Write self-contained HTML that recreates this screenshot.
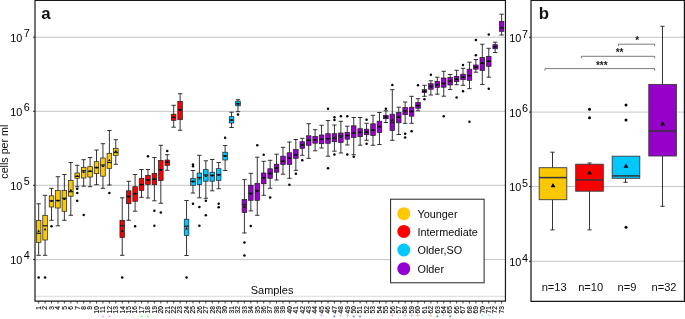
<!DOCTYPE html>
<html><head><meta charset="utf-8"><title>Figure</title>
<style>html,body{margin:0;padding:0;background:#fff}body{width:685px;height:319px;overflow:hidden}</style>
</head><body>
<svg width="685" height="319" viewBox="0 0 685 319" style="display:block;will-change:transform;font-family:'Liberation Sans',Arial,sans-serif">
<rect width="685" height="319" fill="#fff"/>
<line x1="35.0" x2="505.45" y1="37.2" y2="37.2" stroke="#b4b4b4" stroke-width="0.8"/>
<line x1="35.0" x2="505.45" y1="111.3" y2="111.3" stroke="#b4b4b4" stroke-width="0.8"/>
<line x1="35.0" x2="505.45" y1="185.3" y2="185.3" stroke="#b4b4b4" stroke-width="0.8"/>
<line x1="35.0" x2="505.45" y1="259.6" y2="259.6" stroke="#b4b4b4" stroke-width="0.8"/>
<line x1="35.0" x2="505.45" y1="296.3" y2="296.3" stroke="#d2d2d2" stroke-width="0.8"/>
<g stroke="#1e1e22" stroke-width="0.9">
<line x1="38.65" x2="38.65" y1="203.8" y2="255.3"/>
<line x1="36.45" x2="40.85" y1="203.8" y2="203.8"/>
<line x1="36.45" x2="40.85" y1="255.3" y2="255.3"/>
<rect x="36.35" y="220.3" width="4.6" height="22.20" fill="#FAC800" stroke-width="0.7"/>
<line x1="36.35" x2="40.95" y1="233.3" y2="233.3" stroke-width="1.3"/>
</g>
<path d="M37.40 231.90L39.90 231.90L38.65 229.50Z" fill="#000"/>
<circle cx="38.65" cy="277.5" r="1.25" fill="#000"/>
<g stroke="#1e1e22" stroke-width="0.9">
<line x1="45.08" x2="45.08" y1="195.3" y2="255.3"/>
<line x1="42.88" x2="47.28" y1="195.3" y2="195.3"/>
<line x1="42.88" x2="47.28" y1="255.3" y2="255.3"/>
<rect x="42.78" y="215.3" width="4.6" height="24.70" fill="#FAC800" stroke-width="0.7"/>
<line x1="42.78" x2="47.38" y1="225.8" y2="225.8" stroke-width="1.3"/>
</g>
<path d="M43.83 230.30L46.33 230.30L45.08 227.90Z" fill="#000"/>
<circle cx="45.08" cy="277.5" r="1.25" fill="#000"/>
<g stroke="#1e1e22" stroke-width="0.9">
<line x1="51.51" x2="51.51" y1="188.3" y2="220.3"/>
<line x1="49.31" x2="53.71" y1="188.3" y2="188.3"/>
<line x1="49.31" x2="53.71" y1="220.3" y2="220.3"/>
<rect x="49.21" y="195.8" width="4.6" height="11.20" fill="#FAC800" stroke-width="0.7"/>
<line x1="49.21" x2="53.81" y1="200.8" y2="200.8" stroke-width="1.3"/>
</g>
<path d="M50.26 202.10L52.76 202.10L51.51 199.70Z" fill="#000"/>
<circle cx="51.51" cy="226.2" r="1.25" fill="#000"/>
<g stroke="#1e1e22" stroke-width="0.9">
<line x1="57.94" x2="57.94" y1="176.7" y2="225.8"/>
<line x1="55.74" x2="60.14" y1="176.7" y2="176.7"/>
<line x1="55.74" x2="60.14" y1="225.8" y2="225.8"/>
<rect x="55.64" y="190.5" width="4.6" height="17.50" fill="#FAC800" stroke-width="0.7"/>
<line x1="55.64" x2="60.24" y1="200.5" y2="200.5" stroke-width="1.3"/>
</g>
<path d="M56.69 201.60L59.19 201.60L57.94 199.20Z" fill="#000"/>
<g stroke="#1e1e22" stroke-width="0.9">
<line x1="64.37" x2="64.37" y1="174.5" y2="220.3"/>
<line x1="62.17" x2="66.57" y1="174.5" y2="174.5"/>
<line x1="62.17" x2="66.57" y1="220.3" y2="220.3"/>
<rect x="62.07" y="190.5" width="4.6" height="20.80" fill="#FAC800" stroke-width="0.7"/>
<line x1="62.07" x2="66.67" y1="198.3" y2="198.3" stroke-width="1.3"/>
</g>
<path d="M63.12 200.10L65.62 200.10L64.37 197.70Z" fill="#000"/>
<g stroke="#1e1e22" stroke-width="0.9">
<line x1="70.80" x2="70.80" y1="162.5" y2="215.3"/>
<line x1="68.60" x2="73.00" y1="162.5" y2="162.5"/>
<line x1="68.60" x2="73.00" y1="215.3" y2="215.3"/>
<rect x="68.50" y="180.3" width="4.6" height="15.90" fill="#FAC800" stroke-width="0.7"/>
<line x1="68.50" x2="73.10" y1="191.7" y2="191.7" stroke-width="1.3"/>
</g>
<path d="M69.55 191.10L72.05 191.10L70.80 188.70Z" fill="#000"/>
<g stroke="#1e1e22" stroke-width="0.9">
<line x1="77.23" x2="77.23" y1="165.3" y2="186.7"/>
<line x1="75.03" x2="79.43" y1="165.3" y2="165.3"/>
<line x1="75.03" x2="79.43" y1="186.7" y2="186.7"/>
<rect x="74.93" y="173" width="4.6" height="5.30" fill="#FAC800" stroke-width="0.7"/>
<line x1="74.93" x2="79.53" y1="176.3" y2="176.3" stroke-width="1.3"/>
</g>
<path d="M75.98 177.10L78.48 177.10L77.23 174.70Z" fill="#000"/>
<circle cx="77.23" cy="188.8" r="1.25" fill="#000"/>
<circle cx="77.23" cy="193" r="1.25" fill="#000"/>
<circle cx="77.23" cy="200.7" r="1.25" fill="#000"/>
<g stroke="#1e1e22" stroke-width="0.9">
<line x1="83.66" x2="83.66" y1="159.7" y2="186.2"/>
<line x1="81.46" x2="85.86" y1="159.7" y2="159.7"/>
<line x1="81.46" x2="85.86" y1="186.2" y2="186.2"/>
<rect x="81.36" y="167.3" width="4.6" height="10.70" fill="#FAC800" stroke-width="0.7"/>
<line x1="81.36" x2="85.96" y1="170.8" y2="170.8" stroke-width="1.3"/>
</g>
<path d="M82.41 173.10L84.91 173.10L83.66 170.70Z" fill="#000"/>
<circle cx="83.66" cy="215" r="1.25" fill="#000"/>
<g stroke="#1e1e22" stroke-width="0.9">
<line x1="90.09" x2="90.09" y1="157.5" y2="186.7"/>
<line x1="87.89" x2="92.29" y1="157.5" y2="157.5"/>
<line x1="87.89" x2="92.29" y1="186.7" y2="186.7"/>
<rect x="87.79" y="166.7" width="4.6" height="10.30" fill="#FAC800" stroke-width="0.7"/>
<line x1="87.79" x2="92.39" y1="171.3" y2="171.3" stroke-width="1.3"/>
</g>
<path d="M88.84 172.10L91.34 172.10L90.09 169.70Z" fill="#000"/>
<g stroke="#1e1e22" stroke-width="0.9">
<line x1="96.52" x2="96.52" y1="150" y2="184.7"/>
<line x1="94.32" x2="98.72" y1="150" y2="150"/>
<line x1="94.32" x2="98.72" y1="184.7" y2="184.7"/>
<rect x="94.22" y="161.7" width="4.6" height="12.00" fill="#FAC800" stroke-width="0.7"/>
<line x1="94.22" x2="98.82" y1="167.5" y2="167.5" stroke-width="1.3"/>
</g>
<path d="M95.27 168.60L97.77 168.60L96.52 166.20Z" fill="#000"/>
<g stroke="#1e1e22" stroke-width="0.9">
<line x1="102.95" x2="102.95" y1="143.7" y2="188.3"/>
<line x1="100.75" x2="105.15" y1="143.7" y2="143.7"/>
<line x1="100.75" x2="105.15" y1="188.3" y2="188.3"/>
<rect x="100.65" y="158" width="4.6" height="18.20" fill="#FAC800" stroke-width="0.7"/>
<line x1="100.65" x2="105.25" y1="165" y2="165" stroke-width="1.3"/>
</g>
<path d="M101.70 167.10L104.20 167.10L102.95 164.70Z" fill="#000"/>
<g stroke="#1e1e22" stroke-width="0.9">
<line x1="109.38" x2="109.38" y1="130.5" y2="185"/>
<line x1="107.18" x2="111.58" y1="130.5" y2="130.5"/>
<line x1="107.18" x2="111.58" y1="185" y2="185"/>
<rect x="107.08" y="153.3" width="4.6" height="15.00" fill="#FAC800" stroke-width="0.7"/>
<line x1="107.08" x2="111.68" y1="162.5" y2="162.5" stroke-width="1.3"/>
</g>
<path d="M108.13 161.10L110.63 161.10L109.38 158.70Z" fill="#000"/>
<circle cx="109.38" cy="193" r="1.25" fill="#000"/>
<g stroke="#1e1e22" stroke-width="0.9">
<line x1="115.81" x2="115.81" y1="139.7" y2="164.3"/>
<line x1="113.61" x2="118.01" y1="139.7" y2="139.7"/>
<line x1="113.61" x2="118.01" y1="164.3" y2="164.3"/>
<rect x="113.51" y="148.3" width="4.6" height="7.00" fill="#FAC800" stroke-width="0.7"/>
<line x1="113.51" x2="118.11" y1="152.5" y2="152.5" stroke-width="1.3"/>
</g>
<path d="M114.56 151.90L117.06 151.90L115.81 149.50Z" fill="#000"/>
<g stroke="#1e1e22" stroke-width="0.9">
<line x1="122.24" x2="122.24" y1="197.8" y2="255.3"/>
<line x1="120.04" x2="124.44" y1="197.8" y2="197.8"/>
<line x1="120.04" x2="124.44" y1="255.3" y2="255.3"/>
<rect x="119.94" y="220.3" width="4.6" height="17.20" fill="#F70000" stroke-width="0.7"/>
<line x1="119.94" x2="124.54" y1="225.8" y2="225.8" stroke-width="1.3"/>
</g>
<path d="M120.99 231.90L123.49 231.90L122.24 229.50Z" fill="#000"/>
<circle cx="122.24" cy="277.5" r="1.25" fill="#000"/>
<g stroke="#1e1e22" stroke-width="0.9">
<line x1="128.67" x2="128.67" y1="181.3" y2="220.3"/>
<line x1="126.47" x2="130.87" y1="181.3" y2="181.3"/>
<line x1="126.47" x2="130.87" y1="220.3" y2="220.3"/>
<rect x="126.37" y="190.8" width="4.6" height="12.90" fill="#F70000" stroke-width="0.7"/>
<line x1="126.37" x2="130.97" y1="196.3" y2="196.3" stroke-width="1.3"/>
</g>
<path d="M127.42 197.60L129.92 197.60L128.67 195.20Z" fill="#000"/>
<g stroke="#1e1e22" stroke-width="0.9">
<line x1="135.10" x2="135.10" y1="174.5" y2="211.2"/>
<line x1="132.90" x2="137.30" y1="174.5" y2="174.5"/>
<line x1="132.90" x2="137.30" y1="211.2" y2="211.2"/>
<rect x="132.80" y="186.7" width="4.6" height="14.60" fill="#F70000" stroke-width="0.7"/>
<line x1="132.80" x2="137.40" y1="193.7" y2="193.7" stroke-width="1.3"/>
</g>
<path d="M133.85 194.60L136.35 194.60L135.10 192.20Z" fill="#000"/>
<circle cx="135.10" cy="226.2" r="1.25" fill="#000"/>
<g stroke="#1e1e22" stroke-width="0.9">
<line x1="141.53" x2="141.53" y1="169.5" y2="197.3"/>
<line x1="139.33" x2="143.73" y1="169.5" y2="169.5"/>
<line x1="139.33" x2="143.73" y1="197.3" y2="197.3"/>
<rect x="139.23" y="178.3" width="4.6" height="12.10" fill="#F70000" stroke-width="0.7"/>
<line x1="139.23" x2="143.83" y1="184.5" y2="184.5" stroke-width="1.3"/>
</g>
<path d="M140.28 185.60L142.78 185.60L141.53 183.20Z" fill="#000"/>
<g stroke="#1e1e22" stroke-width="0.9">
<line x1="147.96" x2="147.96" y1="169.5" y2="198"/>
<line x1="145.76" x2="150.16" y1="169.5" y2="169.5"/>
<line x1="145.76" x2="150.16" y1="198" y2="198"/>
<rect x="145.66" y="175.3" width="4.6" height="9.20" fill="#F70000" stroke-width="0.7"/>
<line x1="145.66" x2="150.26" y1="179.7" y2="179.7" stroke-width="1.3"/>
</g>
<path d="M146.71 181.10L149.21 181.10L147.96 178.70Z" fill="#000"/>
<circle cx="147.96" cy="156.2" r="1.25" fill="#000"/>
<g stroke="#1e1e22" stroke-width="0.9">
<line x1="154.39" x2="154.39" y1="157.5" y2="200.8"/>
<line x1="152.19" x2="156.59" y1="157.5" y2="157.5"/>
<line x1="152.19" x2="156.59" y1="200.8" y2="200.8"/>
<rect x="152.09" y="173.3" width="4.6" height="11.40" fill="#F70000" stroke-width="0.7"/>
<line x1="152.09" x2="156.69" y1="179.2" y2="179.2" stroke-width="1.3"/>
</g>
<path d="M153.14 180.10L155.64 180.10L154.39 177.70Z" fill="#000"/>
<circle cx="154.39" cy="210.8" r="1.25" fill="#000"/>
<circle cx="154.39" cy="225.8" r="1.25" fill="#000"/>
<g stroke="#1e1e22" stroke-width="0.9">
<line x1="160.82" x2="160.82" y1="145.3" y2="203.3"/>
<line x1="158.62" x2="163.02" y1="145.3" y2="145.3"/>
<line x1="158.62" x2="163.02" y1="203.3" y2="203.3"/>
<rect x="158.52" y="160.5" width="4.6" height="20.00" fill="#F70000" stroke-width="0.7"/>
<line x1="158.52" x2="163.12" y1="169.7" y2="169.7" stroke-width="1.3"/>
</g>
<path d="M159.57 170.80L162.07 170.80L160.82 168.40Z" fill="#000"/>
<circle cx="160.82" cy="212.5" r="1.25" fill="#000"/>
<g stroke="#1e1e22" stroke-width="0.9">
<line x1="167.25" x2="167.25" y1="154.7" y2="170.3"/>
<line x1="165.05" x2="169.45" y1="154.7" y2="154.7"/>
<line x1="165.05" x2="169.45" y1="170.3" y2="170.3"/>
<rect x="164.95" y="160" width="4.6" height="5.50" fill="#F70000" stroke-width="0.7"/>
<line x1="164.95" x2="169.55" y1="162" y2="162" stroke-width="1.3"/>
</g>
<path d="M166.00 163.10L168.50 163.10L167.25 160.70Z" fill="#000"/>
<circle cx="167.25" cy="151" r="1.25" fill="#000"/>
<g stroke="#1e1e22" stroke-width="0.9">
<line x1="173.68" x2="173.68" y1="105.3" y2="127.2"/>
<line x1="171.48" x2="175.88" y1="105.3" y2="105.3"/>
<line x1="171.48" x2="175.88" y1="127.2" y2="127.2"/>
<rect x="171.38" y="114.2" width="4.6" height="6.10" fill="#F70000" stroke-width="0.7"/>
<line x1="171.38" x2="175.98" y1="117.5" y2="117.5" stroke-width="1.3"/>
</g>
<path d="M172.43 118.10L174.93 118.10L173.68 115.70Z" fill="#000"/>
<g stroke="#1e1e22" stroke-width="0.9">
<line x1="180.11" x2="180.11" y1="93.7" y2="130.3"/>
<line x1="177.91" x2="182.31" y1="93.7" y2="93.7"/>
<line x1="177.91" x2="182.31" y1="130.3" y2="130.3"/>
<rect x="177.81" y="101.3" width="4.6" height="18.40" fill="#F70000" stroke-width="0.7"/>
<line x1="177.81" x2="182.41" y1="109.7" y2="109.7" stroke-width="1.3"/>
</g>
<path d="M178.86 110.80L181.36 110.80L180.11 108.40Z" fill="#000"/>
<g stroke="#1e1e22" stroke-width="0.9">
<line x1="186.54" x2="186.54" y1="200.5" y2="255.5"/>
<line x1="184.34" x2="188.74" y1="200.5" y2="200.5"/>
<line x1="184.34" x2="188.74" y1="255.5" y2="255.5"/>
<rect x="184.24" y="219.2" width="4.6" height="16.30" fill="#00C8FF" stroke-width="0.7"/>
<line x1="184.24" x2="188.84" y1="226.2" y2="226.2" stroke-width="1.3"/>
</g>
<path d="M185.29 229.40L187.79 229.40L186.54 227.00Z" fill="#000"/>
<circle cx="186.54" cy="277.5" r="1.25" fill="#000"/>
<g stroke="#1e1e22" stroke-width="0.9">
<line x1="192.97" x2="192.97" y1="170.5" y2="193"/>
<line x1="190.77" x2="195.17" y1="170.5" y2="170.5"/>
<line x1="190.77" x2="195.17" y1="193" y2="193"/>
<rect x="190.67" y="178.3" width="4.6" height="7.00" fill="#00C8FF" stroke-width="0.7"/>
<line x1="190.67" x2="195.27" y1="181.3" y2="181.3" stroke-width="1.3"/>
</g>
<path d="M191.72 182.60L194.22 182.60L192.97 180.20Z" fill="#000"/>
<circle cx="192.97" cy="164.5" r="1.25" fill="#000"/>
<circle cx="192.97" cy="166.3" r="1.25" fill="#000"/>
<circle cx="192.97" cy="203.8" r="1.25" fill="#000"/>
<g stroke="#1e1e22" stroke-width="0.9">
<line x1="199.40" x2="199.40" y1="155.3" y2="197.8"/>
<line x1="197.20" x2="201.60" y1="155.3" y2="155.3"/>
<line x1="197.20" x2="201.60" y1="197.8" y2="197.8"/>
<rect x="197.10" y="173" width="4.6" height="11.50" fill="#00C8FF" stroke-width="0.7"/>
<line x1="197.10" x2="201.70" y1="177.5" y2="177.5" stroke-width="1.3"/>
</g>
<path d="M198.15 179.60L200.65 179.60L199.40 177.20Z" fill="#000"/>
<circle cx="199.40" cy="207" r="1.25" fill="#000"/>
<circle cx="199.40" cy="225.8" r="1.25" fill="#000"/>
<g stroke="#1e1e22" stroke-width="0.9">
<line x1="205.83" x2="205.83" y1="160.8" y2="198.3"/>
<line x1="203.63" x2="208.03" y1="160.8" y2="160.8"/>
<line x1="203.63" x2="208.03" y1="198.3" y2="198.3"/>
<rect x="203.53" y="169.7" width="4.6" height="11.50" fill="#00C8FF" stroke-width="0.7"/>
<line x1="203.53" x2="208.13" y1="175" y2="175" stroke-width="1.3"/>
</g>
<path d="M204.58 177.10L207.08 177.10L205.83 174.70Z" fill="#000"/>
<circle cx="205.83" cy="200.8" r="1.25" fill="#000"/>
<circle cx="205.83" cy="215.3" r="1.25" fill="#000"/>
<g stroke="#1e1e22" stroke-width="0.9">
<line x1="212.26" x2="212.26" y1="159.5" y2="190.8"/>
<line x1="210.06" x2="214.46" y1="159.5" y2="159.5"/>
<line x1="210.06" x2="214.46" y1="190.8" y2="190.8"/>
<rect x="209.96" y="172.2" width="4.6" height="9.00" fill="#00C8FF" stroke-width="0.7"/>
<line x1="209.96" x2="214.56" y1="175.3" y2="175.3" stroke-width="1.3"/>
</g>
<path d="M211.01 176.40L213.51 176.40L212.26 174.00Z" fill="#000"/>
<g stroke="#1e1e22" stroke-width="0.9">
<line x1="218.69" x2="218.69" y1="162.5" y2="188.7"/>
<line x1="216.49" x2="220.89" y1="162.5" y2="162.5"/>
<line x1="216.49" x2="220.89" y1="188.7" y2="188.7"/>
<rect x="216.39" y="168.7" width="4.6" height="11.60" fill="#00C8FF" stroke-width="0.7"/>
<line x1="216.39" x2="220.99" y1="174.7" y2="174.7" stroke-width="1.3"/>
</g>
<path d="M217.44 175.80L219.94 175.80L218.69 173.40Z" fill="#000"/>
<circle cx="218.69" cy="203.8" r="1.25" fill="#000"/>
<circle cx="218.69" cy="207.2" r="1.25" fill="#000"/>
<g stroke="#1e1e22" stroke-width="0.9">
<line x1="225.12" x2="225.12" y1="145.5" y2="170.5"/>
<line x1="222.92" x2="227.32" y1="145.5" y2="145.5"/>
<line x1="222.92" x2="227.32" y1="170.5" y2="170.5"/>
<rect x="222.82" y="152.2" width="4.6" height="7.80" fill="#00C8FF" stroke-width="0.7"/>
<line x1="222.82" x2="227.42" y1="155.8" y2="155.8" stroke-width="1.3"/>
</g>
<path d="M223.87 156.90L226.37 156.90L225.12 154.50Z" fill="#000"/>
<circle cx="225.12" cy="137.7" r="1.25" fill="#000"/>
<g stroke="#1e1e22" stroke-width="0.9">
<line x1="231.55" x2="231.55" y1="112.2" y2="127.5"/>
<line x1="229.35" x2="233.75" y1="112.2" y2="112.2"/>
<line x1="229.35" x2="233.75" y1="127.5" y2="127.5"/>
<rect x="229.25" y="116.7" width="4.6" height="6.30" fill="#00C8FF" stroke-width="0.7"/>
<line x1="229.25" x2="233.85" y1="120" y2="120" stroke-width="1.3"/>
</g>
<path d="M230.30 121.10L232.80 121.10L231.55 118.70Z" fill="#000"/>
<g stroke="#1e1e22" stroke-width="0.9">
<line x1="237.98" x2="237.98" y1="99.7" y2="111.7"/>
<line x1="235.78" x2="240.18" y1="99.7" y2="99.7"/>
<line x1="235.78" x2="240.18" y1="111.7" y2="111.7"/>
<rect x="235.68" y="101.2" width="4.6" height="4.60" fill="#00C8FF" stroke-width="0.7"/>
<line x1="235.68" x2="240.28" y1="103.8" y2="103.8" stroke-width="1.3"/>
</g>
<path d="M236.73 104.60L239.23 104.60L237.98 102.20Z" fill="#000"/>
<circle cx="237.98" cy="114.5" r="1.25" fill="#000"/>
<g stroke="#1e1e22" stroke-width="0.9">
<line x1="244.41" x2="244.41" y1="179.6" y2="233"/>
<line x1="242.21" x2="246.61" y1="179.6" y2="179.6"/>
<line x1="242.21" x2="246.61" y1="233" y2="233"/>
<rect x="242.11" y="199.5" width="4.6" height="13.00" fill="#9600C8" stroke-width="0.7"/>
<line x1="242.11" x2="246.71" y1="204.7" y2="204.7" stroke-width="1.3"/>
</g>
<path d="M243.16 207.80L245.66 207.80L244.41 205.40Z" fill="#000"/>
<circle cx="244.41" cy="242.5" r="1.25" fill="#000"/>
<circle cx="244.41" cy="255.5" r="1.25" fill="#000"/>
<g stroke="#1e1e22" stroke-width="0.9">
<line x1="250.84" x2="250.84" y1="173.3" y2="210.9"/>
<line x1="248.64" x2="253.04" y1="173.3" y2="173.3"/>
<line x1="248.64" x2="253.04" y1="210.9" y2="210.9"/>
<rect x="248.54" y="185.2" width="4.6" height="15.10" fill="#9600C8" stroke-width="0.7"/>
<line x1="248.54" x2="253.14" y1="193.3" y2="193.3" stroke-width="1.3"/>
</g>
<path d="M249.59 194.60L252.09 194.60L250.84 192.20Z" fill="#000"/>
<circle cx="250.84" cy="226" r="1.25" fill="#000"/>
<g stroke="#1e1e22" stroke-width="0.9">
<line x1="257.27" x2="257.27" y1="157.2" y2="215.3"/>
<line x1="255.07" x2="259.47" y1="157.2" y2="157.2"/>
<line x1="255.07" x2="259.47" y1="215.3" y2="215.3"/>
<rect x="254.97" y="183.3" width="4.6" height="17.00" fill="#9600C8" stroke-width="0.7"/>
<line x1="254.97" x2="259.57" y1="190.8" y2="190.8" stroke-width="1.3"/>
</g>
<path d="M256.02 191.60L258.52 191.60L257.27 189.20Z" fill="#000"/>
<circle cx="257.27" cy="145.3" r="1.25" fill="#000"/>
<g stroke="#1e1e22" stroke-width="0.9">
<line x1="263.70" x2="263.70" y1="161.3" y2="195.3"/>
<line x1="261.50" x2="265.90" y1="161.3" y2="161.3"/>
<line x1="261.50" x2="265.90" y1="195.3" y2="195.3"/>
<rect x="261.40" y="173" width="4.6" height="10.70" fill="#9600C8" stroke-width="0.7"/>
<line x1="261.40" x2="266.00" y1="177.5" y2="177.5" stroke-width="1.3"/>
</g>
<path d="M262.45 179.10L264.95 179.10L263.70 176.70Z" fill="#000"/>
<circle cx="263.70" cy="154.7" r="1.25" fill="#000"/>
<g stroke="#1e1e22" stroke-width="0.9">
<line x1="270.13" x2="270.13" y1="160.3" y2="188.3"/>
<line x1="267.93" x2="272.33" y1="160.3" y2="160.3"/>
<line x1="267.93" x2="272.33" y1="188.3" y2="188.3"/>
<rect x="267.83" y="168.8" width="4.6" height="9.50" fill="#9600C8" stroke-width="0.7"/>
<line x1="267.83" x2="272.43" y1="173.3" y2="173.3" stroke-width="1.3"/>
</g>
<path d="M268.88 174.40L271.38 174.40L270.13 172.00Z" fill="#000"/>
<circle cx="270.13" cy="197.5" r="1.25" fill="#000"/>
<g stroke="#1e1e22" stroke-width="0.9">
<line x1="276.56" x2="276.56" y1="154.2" y2="180"/>
<line x1="274.36" x2="278.76" y1="154.2" y2="154.2"/>
<line x1="274.36" x2="278.76" y1="180" y2="180"/>
<rect x="274.26" y="164.2" width="4.6" height="8.00" fill="#9600C8" stroke-width="0.7"/>
<line x1="274.26" x2="278.86" y1="167.8" y2="167.8" stroke-width="1.3"/>
</g>
<path d="M275.31 169.10L277.81 169.10L276.56 166.70Z" fill="#000"/>
<g stroke="#1e1e22" stroke-width="0.9">
<line x1="282.99" x2="282.99" y1="147.3" y2="174.2"/>
<line x1="280.79" x2="285.19" y1="147.3" y2="147.3"/>
<line x1="280.79" x2="285.19" y1="174.2" y2="174.2"/>
<rect x="280.69" y="156.2" width="4.6" height="8.30" fill="#9600C8" stroke-width="0.7"/>
<line x1="280.69" x2="285.29" y1="161.2" y2="161.2" stroke-width="1.3"/>
</g>
<path d="M281.74 162.10L284.24 162.10L282.99 159.70Z" fill="#000"/>
<g stroke="#1e1e22" stroke-width="0.9">
<line x1="289.42" x2="289.42" y1="142" y2="178.3"/>
<line x1="287.22" x2="291.62" y1="142" y2="142"/>
<line x1="287.22" x2="291.62" y1="178.3" y2="178.3"/>
<rect x="287.12" y="152.8" width="4.6" height="11.70" fill="#9600C8" stroke-width="0.7"/>
<line x1="287.12" x2="291.72" y1="158" y2="158" stroke-width="1.3"/>
</g>
<path d="M288.17 159.10L290.67 159.10L289.42 156.70Z" fill="#000"/>
<circle cx="289.42" cy="184.8" r="1.25" fill="#000"/>
<g stroke="#1e1e22" stroke-width="0.9">
<line x1="295.85" x2="295.85" y1="139.5" y2="170.3"/>
<line x1="293.65" x2="298.05" y1="139.5" y2="139.5"/>
<line x1="293.65" x2="298.05" y1="170.3" y2="170.3"/>
<rect x="293.55" y="149.5" width="4.6" height="8.80" fill="#9600C8" stroke-width="0.7"/>
<line x1="293.55" x2="298.15" y1="154.7" y2="154.7" stroke-width="1.3"/>
</g>
<path d="M294.60 155.60L297.10 155.60L295.85 153.20Z" fill="#000"/>
<circle cx="295.85" cy="173.8" r="1.25" fill="#000"/>
<g stroke="#1e1e22" stroke-width="0.9">
<line x1="302.28" x2="302.28" y1="138.3" y2="155.3"/>
<line x1="300.08" x2="304.48" y1="138.3" y2="138.3"/>
<line x1="300.08" x2="304.48" y1="155.3" y2="155.3"/>
<rect x="299.98" y="141.7" width="4.6" height="6.60" fill="#9600C8" stroke-width="0.7"/>
<line x1="299.98" x2="304.58" y1="145" y2="145" stroke-width="1.3"/>
</g>
<path d="M301.03 146.10L303.53 146.10L302.28 143.70Z" fill="#000"/>
<circle cx="302.28" cy="160.3" r="1.25" fill="#000"/>
<g stroke="#1e1e22" stroke-width="0.9">
<line x1="308.71" x2="308.71" y1="123.7" y2="158.3"/>
<line x1="306.51" x2="310.91" y1="123.7" y2="123.7"/>
<line x1="306.51" x2="310.91" y1="158.3" y2="158.3"/>
<rect x="306.41" y="135.8" width="4.6" height="9.50" fill="#9600C8" stroke-width="0.7"/>
<line x1="306.41" x2="311.01" y1="140.3" y2="140.3" stroke-width="1.3"/>
</g>
<path d="M307.46 141.10L309.96 141.10L308.71 138.70Z" fill="#000"/>
<g stroke="#1e1e22" stroke-width="0.9">
<line x1="315.14" x2="315.14" y1="129.7" y2="150.8"/>
<line x1="312.94" x2="317.34" y1="129.7" y2="129.7"/>
<line x1="312.94" x2="317.34" y1="150.8" y2="150.8"/>
<rect x="312.84" y="136.3" width="4.6" height="6.90" fill="#9600C8" stroke-width="0.7"/>
<line x1="312.84" x2="317.44" y1="139.7" y2="139.7" stroke-width="1.3"/>
</g>
<path d="M313.89 140.60L316.39 140.60L315.14 138.20Z" fill="#000"/>
<g stroke="#1e1e22" stroke-width="0.9">
<line x1="321.57" x2="321.57" y1="125.3" y2="148"/>
<line x1="319.37" x2="323.77" y1="125.3" y2="125.3"/>
<line x1="319.37" x2="323.77" y1="148" y2="148"/>
<rect x="319.27" y="135" width="4.6" height="8.70" fill="#9600C8" stroke-width="0.7"/>
<line x1="319.27" x2="323.87" y1="139.2" y2="139.2" stroke-width="1.3"/>
</g>
<path d="M320.32 140.10L322.82 140.10L321.57 137.70Z" fill="#000"/>
<g stroke="#1e1e22" stroke-width="0.9">
<line x1="328.00" x2="328.00" y1="120.5" y2="156.2"/>
<line x1="325.80" x2="330.20" y1="120.5" y2="120.5"/>
<line x1="325.80" x2="330.20" y1="156.2" y2="156.2"/>
<rect x="325.70" y="133.7" width="4.6" height="9.60" fill="#9600C8" stroke-width="0.7"/>
<line x1="325.70" x2="330.30" y1="138.7" y2="138.7" stroke-width="1.3"/>
</g>
<path d="M326.75 139.60L329.25 139.60L328.00 137.20Z" fill="#000"/>
<circle cx="328.00" cy="108.8" r="1.25" fill="#000"/>
<circle cx="328.00" cy="168.3" r="1.25" fill="#000"/>
<g stroke="#1e1e22" stroke-width="0.9">
<line x1="334.43" x2="334.43" y1="125" y2="151.2"/>
<line x1="332.23" x2="336.63" y1="125" y2="125"/>
<line x1="332.23" x2="336.63" y1="151.2" y2="151.2"/>
<rect x="332.13" y="133.7" width="4.6" height="8.00" fill="#9600C8" stroke-width="0.7"/>
<line x1="332.13" x2="336.73" y1="138" y2="138" stroke-width="1.3"/>
</g>
<path d="M333.18 138.60L335.68 138.60L334.43 136.20Z" fill="#000"/>
<circle cx="334.43" cy="117.2" r="1.25" fill="#000"/>
<circle cx="334.43" cy="120" r="1.25" fill="#000"/>
<circle cx="334.43" cy="154.5" r="1.25" fill="#000"/>
<g stroke="#1e1e22" stroke-width="0.9">
<line x1="340.86" x2="340.86" y1="121.3" y2="153"/>
<line x1="338.66" x2="343.06" y1="121.3" y2="121.3"/>
<line x1="338.66" x2="343.06" y1="153" y2="153"/>
<rect x="338.56" y="133" width="4.6" height="9.50" fill="#9600C8" stroke-width="0.7"/>
<line x1="338.56" x2="343.16" y1="135.8" y2="135.8" stroke-width="1.3"/>
</g>
<path d="M339.61 138.10L342.11 138.10L340.86 135.70Z" fill="#000"/>
<circle cx="340.86" cy="116.2" r="1.25" fill="#000"/>
<g stroke="#1e1e22" stroke-width="0.9">
<line x1="347.29" x2="347.29" y1="126.2" y2="145"/>
<line x1="345.09" x2="349.49" y1="126.2" y2="126.2"/>
<line x1="345.09" x2="349.49" y1="145" y2="145"/>
<rect x="344.99" y="132.5" width="4.6" height="6.70" fill="#9600C8" stroke-width="0.7"/>
<line x1="344.99" x2="349.59" y1="135.5" y2="135.5" stroke-width="1.3"/>
</g>
<path d="M346.04 136.60L348.54 136.60L347.29 134.20Z" fill="#000"/>
<circle cx="347.29" cy="116.2" r="1.25" fill="#000"/>
<circle cx="347.29" cy="154.5" r="1.25" fill="#000"/>
<g stroke="#1e1e22" stroke-width="0.9">
<line x1="353.72" x2="353.72" y1="117.5" y2="154.7"/>
<line x1="351.52" x2="355.92" y1="117.5" y2="117.5"/>
<line x1="351.52" x2="355.92" y1="154.7" y2="154.7"/>
<rect x="351.42" y="125.8" width="4.6" height="11.70" fill="#9600C8" stroke-width="0.7"/>
<line x1="351.42" x2="356.02" y1="133" y2="133" stroke-width="1.3"/>
</g>
<path d="M352.47 133.60L354.97 133.60L353.72 131.20Z" fill="#000"/>
<circle cx="353.72" cy="156.7" r="1.25" fill="#000"/>
<g stroke="#1e1e22" stroke-width="0.9">
<line x1="360.15" x2="360.15" y1="117.5" y2="145.2"/>
<line x1="357.95" x2="362.35" y1="117.5" y2="117.5"/>
<line x1="357.95" x2="362.35" y1="145.2" y2="145.2"/>
<rect x="357.85" y="128.7" width="4.6" height="8.00" fill="#9600C8" stroke-width="0.7"/>
<line x1="357.85" x2="362.45" y1="132.5" y2="132.5" stroke-width="1.3"/>
</g>
<path d="M358.90 133.10L361.40 133.10L360.15 130.70Z" fill="#000"/>
<g stroke="#1e1e22" stroke-width="0.9">
<line x1="366.58" x2="366.58" y1="123.3" y2="140.3"/>
<line x1="364.38" x2="368.78" y1="123.3" y2="123.3"/>
<line x1="364.38" x2="368.78" y1="140.3" y2="140.3"/>
<rect x="364.28" y="129.2" width="4.6" height="5.50" fill="#9600C8" stroke-width="0.7"/>
<line x1="364.28" x2="368.88" y1="132" y2="132" stroke-width="1.3"/>
</g>
<path d="M365.33 133.10L367.83 133.10L366.58 130.70Z" fill="#000"/>
<circle cx="366.58" cy="119.7" r="1.25" fill="#000"/>
<circle cx="366.58" cy="143.7" r="1.25" fill="#000"/>
<g stroke="#1e1e22" stroke-width="0.9">
<line x1="373.01" x2="373.01" y1="115.3" y2="145.3"/>
<line x1="370.81" x2="375.21" y1="115.3" y2="115.3"/>
<line x1="370.81" x2="375.21" y1="145.3" y2="145.3"/>
<rect x="370.71" y="123.8" width="4.6" height="11.70" fill="#9600C8" stroke-width="0.7"/>
<line x1="370.71" x2="375.31" y1="130" y2="130" stroke-width="1.3"/>
</g>
<path d="M371.76 131.10L374.26 131.10L373.01 128.70Z" fill="#000"/>
<g stroke="#1e1e22" stroke-width="0.9">
<line x1="379.44" x2="379.44" y1="112.5" y2="144.5"/>
<line x1="377.24" x2="381.64" y1="112.5" y2="112.5"/>
<line x1="377.24" x2="381.64" y1="144.5" y2="144.5"/>
<rect x="377.14" y="121.2" width="4.6" height="11.30" fill="#9600C8" stroke-width="0.7"/>
<line x1="377.14" x2="381.74" y1="126.7" y2="126.7" stroke-width="1.3"/>
</g>
<path d="M378.19 127.60L380.69 127.60L379.44 125.20Z" fill="#000"/>
<g stroke="#1e1e22" stroke-width="0.9">
<line x1="385.87" x2="385.87" y1="110.8" y2="122.5"/>
<line x1="383.67" x2="388.07" y1="110.8" y2="110.8"/>
<line x1="383.67" x2="388.07" y1="122.5" y2="122.5"/>
<rect x="383.57" y="115.3" width="4.6" height="3.40" fill="#9600C8" stroke-width="0.7"/>
<line x1="383.57" x2="388.17" y1="117" y2="117" stroke-width="1.3"/>
</g>
<path d="M384.62 118.10L387.12 118.10L385.87 115.70Z" fill="#000"/>
<circle cx="385.87" cy="108.8" r="1.25" fill="#000"/>
<g stroke="#1e1e22" stroke-width="0.9">
<line x1="392.30" x2="392.30" y1="89.7" y2="140.3"/>
<line x1="390.10" x2="394.50" y1="89.7" y2="89.7"/>
<line x1="390.10" x2="394.50" y1="140.3" y2="140.3"/>
<rect x="390.00" y="114.2" width="4.6" height="16.30" fill="#9600C8" stroke-width="0.7"/>
<line x1="390.00" x2="394.60" y1="122.5" y2="122.5" stroke-width="1.3"/>
</g>
<path d="M391.05 121.10L393.55 121.10L392.30 118.70Z" fill="#000"/>
<circle cx="392.30" cy="85" r="1.25" fill="#000"/>
<g stroke="#1e1e22" stroke-width="0.9">
<line x1="398.73" x2="398.73" y1="107.2" y2="134.5"/>
<line x1="396.53" x2="400.93" y1="107.2" y2="107.2"/>
<line x1="396.53" x2="400.93" y1="134.5" y2="134.5"/>
<rect x="396.43" y="112.5" width="4.6" height="10.30" fill="#9600C8" stroke-width="0.7"/>
<line x1="396.43" x2="401.03" y1="117.2" y2="117.2" stroke-width="1.3"/>
</g>
<path d="M397.48 118.10L399.98 118.10L398.73 115.70Z" fill="#000"/>
<g stroke="#1e1e22" stroke-width="0.9">
<line x1="405.16" x2="405.16" y1="102" y2="123.3"/>
<line x1="402.96" x2="407.36" y1="102" y2="102"/>
<line x1="402.96" x2="407.36" y1="123.3" y2="123.3"/>
<rect x="402.86" y="107.5" width="4.6" height="7.20" fill="#9600C8" stroke-width="0.7"/>
<line x1="402.86" x2="407.46" y1="110.8" y2="110.8" stroke-width="1.3"/>
</g>
<path d="M403.91 112.60L406.41 112.60L405.16 110.20Z" fill="#000"/>
<circle cx="405.16" cy="133.7" r="1.25" fill="#000"/>
<circle cx="405.16" cy="137.5" r="1.25" fill="#000"/>
<g stroke="#1e1e22" stroke-width="0.9">
<line x1="411.59" x2="411.59" y1="96.3" y2="123.3"/>
<line x1="409.39" x2="413.79" y1="96.3" y2="96.3"/>
<line x1="409.39" x2="413.79" y1="123.3" y2="123.3"/>
<rect x="409.29" y="107.2" width="4.6" height="9.00" fill="#9600C8" stroke-width="0.7"/>
<line x1="409.29" x2="413.89" y1="111.3" y2="111.3" stroke-width="1.3"/>
</g>
<path d="M410.34 112.60L412.84 112.60L411.59 110.20Z" fill="#000"/>
<circle cx="411.59" cy="131.3" r="1.25" fill="#000"/>
<g stroke="#1e1e22" stroke-width="0.9">
<line x1="418.02" x2="418.02" y1="98.7" y2="110.8"/>
<line x1="415.82" x2="420.22" y1="98.7" y2="98.7"/>
<line x1="415.82" x2="420.22" y1="110.8" y2="110.8"/>
<rect x="415.72" y="102.5" width="4.6" height="5.80" fill="#9600C8" stroke-width="0.7"/>
<line x1="415.72" x2="420.32" y1="105.5" y2="105.5" stroke-width="1.3"/>
</g>
<path d="M416.77 106.60L419.27 106.60L418.02 104.20Z" fill="#000"/>
<circle cx="418.02" cy="85.3" r="1.25" fill="#000"/>
<g stroke="#1e1e22" stroke-width="0.9">
<line x1="424.45" x2="424.45" y1="85.3" y2="96.3"/>
<line x1="422.25" x2="426.65" y1="85.3" y2="85.3"/>
<line x1="422.25" x2="426.65" y1="96.3" y2="96.3"/>
<rect x="422.15" y="89.7" width="4.6" height="2.80" fill="#9600C8" stroke-width="0.7"/>
<line x1="422.15" x2="426.75" y1="91.2" y2="91.2" stroke-width="1.3"/>
</g>
<path d="M423.20 92.30L425.70 92.30L424.45 89.90Z" fill="#000"/>
<circle cx="424.45" cy="99.2" r="1.25" fill="#000"/>
<g stroke="#1e1e22" stroke-width="0.9">
<line x1="430.88" x2="430.88" y1="80.8" y2="95"/>
<line x1="428.68" x2="433.08" y1="80.8" y2="80.8"/>
<line x1="428.68" x2="433.08" y1="95" y2="95"/>
<rect x="428.58" y="83.7" width="4.6" height="5.50" fill="#9600C8" stroke-width="0.7"/>
<line x1="428.58" x2="433.18" y1="86.3" y2="86.3" stroke-width="1.3"/>
</g>
<path d="M429.63 87.60L432.13 87.60L430.88 85.20Z" fill="#000"/>
<circle cx="430.88" cy="74.7" r="1.25" fill="#000"/>
<g stroke="#1e1e22" stroke-width="0.9">
<line x1="437.31" x2="437.31" y1="77.2" y2="94.2"/>
<line x1="435.11" x2="439.51" y1="77.2" y2="77.2"/>
<line x1="435.11" x2="439.51" y1="94.2" y2="94.2"/>
<rect x="435.01" y="81.3" width="4.6" height="6.20" fill="#9600C8" stroke-width="0.7"/>
<line x1="435.01" x2="439.61" y1="84.7" y2="84.7" stroke-width="1.3"/>
</g>
<path d="M436.06 85.60L438.56 85.60L437.31 83.20Z" fill="#000"/>
<g stroke="#1e1e22" stroke-width="0.9">
<line x1="443.74" x2="443.74" y1="71.3" y2="96.2"/>
<line x1="441.54" x2="445.94" y1="71.3" y2="71.3"/>
<line x1="441.54" x2="445.94" y1="96.2" y2="96.2"/>
<rect x="441.44" y="78" width="4.6" height="9.20" fill="#9600C8" stroke-width="0.7"/>
<line x1="441.44" x2="446.04" y1="83.3" y2="83.3" stroke-width="1.3"/>
</g>
<path d="M442.49 84.60L444.99 84.60L443.74 82.20Z" fill="#000"/>
<circle cx="443.74" cy="116.2" r="1.25" fill="#000"/>
<g stroke="#1e1e22" stroke-width="0.9">
<line x1="450.17" x2="450.17" y1="74.5" y2="89.5"/>
<line x1="447.97" x2="452.37" y1="74.5" y2="74.5"/>
<line x1="447.97" x2="452.37" y1="89.5" y2="89.5"/>
<rect x="447.87" y="77.5" width="4.6" height="7.50" fill="#9600C8" stroke-width="0.7"/>
<line x1="447.87" x2="452.47" y1="81.2" y2="81.2" stroke-width="1.3"/>
</g>
<path d="M448.92 82.10L451.42 82.10L450.17 79.70Z" fill="#000"/>
<g stroke="#1e1e22" stroke-width="0.9">
<line x1="456.60" x2="456.60" y1="70.3" y2="84.7"/>
<line x1="454.40" x2="458.80" y1="70.3" y2="70.3"/>
<line x1="454.40" x2="458.80" y1="84.7" y2="84.7"/>
<rect x="454.30" y="76.3" width="4.6" height="5.40" fill="#9600C8" stroke-width="0.7"/>
<line x1="454.30" x2="458.90" y1="79.2" y2="79.2" stroke-width="1.3"/>
</g>
<path d="M455.35 80.10L457.85 80.10L456.60 77.70Z" fill="#000"/>
<circle cx="456.60" cy="97.5" r="1.25" fill="#000"/>
<g stroke="#1e1e22" stroke-width="0.9">
<line x1="463.03" x2="463.03" y1="68.3" y2="85.3"/>
<line x1="460.83" x2="465.23" y1="68.3" y2="68.3"/>
<line x1="460.83" x2="465.23" y1="85.3" y2="85.3"/>
<rect x="460.73" y="74.2" width="4.6" height="5.50" fill="#9600C8" stroke-width="0.7"/>
<line x1="460.73" x2="465.33" y1="77.2" y2="77.2" stroke-width="1.3"/>
</g>
<path d="M461.78 78.10L464.28 78.10L463.03 75.70Z" fill="#000"/>
<circle cx="463.03" cy="65" r="1.25" fill="#000"/>
<circle cx="463.03" cy="91.3" r="1.25" fill="#000"/>
<g stroke="#1e1e22" stroke-width="0.9">
<line x1="469.46" x2="469.46" y1="62.2" y2="88.7"/>
<line x1="467.26" x2="471.66" y1="62.2" y2="62.2"/>
<line x1="467.26" x2="471.66" y1="88.7" y2="88.7"/>
<rect x="467.16" y="69.2" width="4.6" height="11.10" fill="#9600C8" stroke-width="0.7"/>
<line x1="467.16" x2="471.76" y1="75.5" y2="75.5" stroke-width="1.3"/>
</g>
<path d="M468.21 76.60L470.71 76.60L469.46 74.20Z" fill="#000"/>
<circle cx="469.46" cy="121.7" r="1.25" fill="#000"/>
<g stroke="#1e1e22" stroke-width="0.9">
<line x1="475.89" x2="475.89" y1="59.5" y2="72.2"/>
<line x1="473.69" x2="478.09" y1="59.5" y2="59.5"/>
<line x1="473.69" x2="478.09" y1="72.2" y2="72.2"/>
<rect x="473.59" y="65" width="4.6" height="4.20" fill="#9600C8" stroke-width="0.7"/>
<line x1="473.59" x2="478.19" y1="67.2" y2="67.2" stroke-width="1.3"/>
</g>
<path d="M474.64 68.10L477.14 68.10L475.89 65.70Z" fill="#000"/>
<circle cx="475.89" cy="40" r="1.25" fill="#000"/>
<circle cx="475.89" cy="55.3" r="1.25" fill="#000"/>
<g stroke="#1e1e22" stroke-width="0.9">
<line x1="482.32" x2="482.32" y1="44.2" y2="84.5"/>
<line x1="480.12" x2="484.52" y1="44.2" y2="44.2"/>
<line x1="480.12" x2="484.52" y1="84.5" y2="84.5"/>
<rect x="480.02" y="57.5" width="4.6" height="13.00" fill="#9600C8" stroke-width="0.7"/>
<line x1="480.02" x2="484.62" y1="63.3" y2="63.3" stroke-width="1.3"/>
</g>
<path d="M481.07 64.10L483.57 64.10L482.32 61.70Z" fill="#000"/>
<g stroke="#1e1e22" stroke-width="0.9">
<line x1="488.75" x2="488.75" y1="48.3" y2="77.2"/>
<line x1="486.55" x2="490.95" y1="48.3" y2="48.3"/>
<line x1="486.55" x2="490.95" y1="77.2" y2="77.2"/>
<rect x="486.45" y="56.3" width="4.6" height="10.00" fill="#9600C8" stroke-width="0.7"/>
<line x1="486.45" x2="491.05" y1="61.3" y2="61.3" stroke-width="1.3"/>
</g>
<path d="M487.50 62.10L490.00 62.10L488.75 59.70Z" fill="#000"/>
<circle cx="488.75" cy="34.5" r="1.25" fill="#000"/>
<circle cx="488.75" cy="88.7" r="1.25" fill="#000"/>
<g stroke="#1e1e22" stroke-width="0.9">
<line x1="495.18" x2="495.18" y1="42.2" y2="52.5"/>
<line x1="492.98" x2="497.38" y1="42.2" y2="42.2"/>
<line x1="492.98" x2="497.38" y1="52.5" y2="52.5"/>
<rect x="492.88" y="44.7" width="4.6" height="4.10" fill="#9600C8" stroke-width="0.7"/>
<line x1="492.88" x2="497.48" y1="46.7" y2="46.7" stroke-width="1.3"/>
</g>
<path d="M493.93 47.60L496.43 47.60L495.18 45.20Z" fill="#000"/>
<g stroke="#1e1e22" stroke-width="0.9">
<line x1="501.61" x2="501.61" y1="14.2" y2="35"/>
<line x1="499.41" x2="503.81" y1="14.2" y2="14.2"/>
<line x1="499.41" x2="503.81" y1="35" y2="35"/>
<rect x="499.31" y="21.3" width="4.6" height="10.00" fill="#9600C8" stroke-width="0.7"/>
<line x1="499.31" x2="503.91" y1="28.3" y2="28.3" stroke-width="1.3"/>
</g>
<path d="M500.36 27.80L502.86 27.80L501.61 25.40Z" fill="#000"/>
<path d="M35.0 301.1V0.3H505.45V301.1Z" fill="none" stroke="#181818" stroke-width="1.2"/>
<line x1="33.0" x2="35.0" y1="37.2" y2="37.2" stroke="#1a1a1a" stroke-width="0.9"/>
<text x="10.2" y="41.8" font-size="10.8" fill="#000">10</text>
<text x="23.8" y="37.0" font-size="10.8" fill="#000">7</text>
<line x1="33.0" x2="35.0" y1="111.3" y2="111.3" stroke="#1a1a1a" stroke-width="0.9"/>
<text x="10.2" y="115.9" font-size="10.8" fill="#000">10</text>
<text x="23.8" y="111.1" font-size="10.8" fill="#000">6</text>
<line x1="33.0" x2="35.0" y1="185.3" y2="185.3" stroke="#1a1a1a" stroke-width="0.9"/>
<text x="10.2" y="189.9" font-size="10.8" fill="#000">10</text>
<text x="23.8" y="185.1" font-size="10.8" fill="#000">5</text>
<line x1="33.0" x2="35.0" y1="259.6" y2="259.6" stroke="#1a1a1a" stroke-width="0.9"/>
<text x="10.2" y="264.2" font-size="10.8" fill="#000">10</text>
<text x="23.8" y="259.4" font-size="10.8" fill="#000">4</text>
<line x1="38.65" x2="38.65" y1="301.1" y2="303.5" stroke="#1a1a1a" stroke-width="0.8"/>
<text transform="translate(40.95 306.1) rotate(-90)" text-anchor="end" font-size="6.6" fill="#000" stroke="#000" stroke-width="0.12">1</text>
<line x1="45.08" x2="45.08" y1="301.1" y2="303.5" stroke="#1a1a1a" stroke-width="0.8"/>
<text transform="translate(47.38 306.1) rotate(-90)" text-anchor="end" font-size="6.6" fill="#000" stroke="#000" stroke-width="0.12">2</text>
<line x1="51.51" x2="51.51" y1="301.1" y2="303.5" stroke="#1a1a1a" stroke-width="0.8"/>
<text transform="translate(53.81 306.1) rotate(-90)" text-anchor="end" font-size="6.6" fill="#000" stroke="#000" stroke-width="0.12">3</text>
<line x1="57.94" x2="57.94" y1="301.1" y2="303.5" stroke="#1a1a1a" stroke-width="0.8"/>
<text transform="translate(60.24 306.1) rotate(-90)" text-anchor="end" font-size="6.6" fill="#000" stroke="#000" stroke-width="0.12">4</text>
<line x1="64.37" x2="64.37" y1="301.1" y2="303.5" stroke="#1a1a1a" stroke-width="0.8"/>
<text transform="translate(66.67 306.1) rotate(-90)" text-anchor="end" font-size="6.6" fill="#000" stroke="#000" stroke-width="0.12">5</text>
<line x1="70.80" x2="70.80" y1="301.1" y2="303.5" stroke="#1a1a1a" stroke-width="0.8"/>
<text transform="translate(73.10 306.1) rotate(-90)" text-anchor="end" font-size="6.6" fill="#000" stroke="#000" stroke-width="0.12">6</text>
<line x1="77.23" x2="77.23" y1="301.1" y2="303.5" stroke="#1a1a1a" stroke-width="0.8"/>
<text transform="translate(79.53 306.1) rotate(-90)" text-anchor="end" font-size="6.6" fill="#000" stroke="#000" stroke-width="0.12">7</text>
<line x1="83.66" x2="83.66" y1="301.1" y2="303.5" stroke="#1a1a1a" stroke-width="0.8"/>
<text transform="translate(85.96 306.1) rotate(-90)" text-anchor="end" font-size="6.6" fill="#000" stroke="#000" stroke-width="0.12">8</text>
<line x1="90.09" x2="90.09" y1="301.1" y2="303.5" stroke="#1a1a1a" stroke-width="0.8"/>
<text transform="translate(92.39 306.1) rotate(-90)" text-anchor="end" font-size="6.6" fill="#000" stroke="#000" stroke-width="0.12">9</text>
<line x1="96.52" x2="96.52" y1="301.1" y2="303.5" stroke="#1a1a1a" stroke-width="0.8"/>
<text transform="translate(98.82 306.1) rotate(-90)" text-anchor="end" font-size="6.6" fill="#000" stroke="#000" stroke-width="0.12">10</text>
<line x1="102.95" x2="102.95" y1="301.1" y2="303.5" stroke="#1a1a1a" stroke-width="0.8"/>
<text transform="translate(105.25 306.1) rotate(-90)" text-anchor="end" font-size="6.6" fill="#000" stroke="#000" stroke-width="0.12">11</text>
<line x1="109.38" x2="109.38" y1="301.1" y2="303.5" stroke="#1a1a1a" stroke-width="0.8"/>
<text transform="translate(111.68 306.1) rotate(-90)" text-anchor="end" font-size="6.6" fill="#000" stroke="#000" stroke-width="0.12">12</text>
<line x1="115.81" x2="115.81" y1="301.1" y2="303.5" stroke="#1a1a1a" stroke-width="0.8"/>
<text transform="translate(118.11 306.1) rotate(-90)" text-anchor="end" font-size="6.6" fill="#000" stroke="#000" stroke-width="0.12">13</text>
<line x1="122.24" x2="122.24" y1="301.1" y2="303.5" stroke="#1a1a1a" stroke-width="0.8"/>
<text transform="translate(124.54 306.1) rotate(-90)" text-anchor="end" font-size="6.6" fill="#000" stroke="#000" stroke-width="0.12">14</text>
<line x1="128.67" x2="128.67" y1="301.1" y2="303.5" stroke="#1a1a1a" stroke-width="0.8"/>
<text transform="translate(130.97 306.1) rotate(-90)" text-anchor="end" font-size="6.6" fill="#000" stroke="#000" stroke-width="0.12">15</text>
<line x1="135.10" x2="135.10" y1="301.1" y2="303.5" stroke="#1a1a1a" stroke-width="0.8"/>
<text transform="translate(137.40 306.1) rotate(-90)" text-anchor="end" font-size="6.6" fill="#000" stroke="#000" stroke-width="0.12">16</text>
<line x1="141.53" x2="141.53" y1="301.1" y2="303.5" stroke="#1a1a1a" stroke-width="0.8"/>
<text transform="translate(143.83 306.1) rotate(-90)" text-anchor="end" font-size="6.6" fill="#000" stroke="#000" stroke-width="0.12">17</text>
<line x1="147.96" x2="147.96" y1="301.1" y2="303.5" stroke="#1a1a1a" stroke-width="0.8"/>
<text transform="translate(150.26 306.1) rotate(-90)" text-anchor="end" font-size="6.6" fill="#000" stroke="#000" stroke-width="0.12">18</text>
<line x1="154.39" x2="154.39" y1="301.1" y2="303.5" stroke="#1a1a1a" stroke-width="0.8"/>
<text transform="translate(156.69 306.1) rotate(-90)" text-anchor="end" font-size="6.6" fill="#000" stroke="#000" stroke-width="0.12">19</text>
<line x1="160.82" x2="160.82" y1="301.1" y2="303.5" stroke="#1a1a1a" stroke-width="0.8"/>
<text transform="translate(163.12 306.1) rotate(-90)" text-anchor="end" font-size="6.6" fill="#000" stroke="#000" stroke-width="0.12">20</text>
<line x1="167.25" x2="167.25" y1="301.1" y2="303.5" stroke="#1a1a1a" stroke-width="0.8"/>
<text transform="translate(169.55 306.1) rotate(-90)" text-anchor="end" font-size="6.6" fill="#000" stroke="#000" stroke-width="0.12">21</text>
<line x1="173.68" x2="173.68" y1="301.1" y2="303.5" stroke="#1a1a1a" stroke-width="0.8"/>
<text transform="translate(175.98 306.1) rotate(-90)" text-anchor="end" font-size="6.6" fill="#000" stroke="#000" stroke-width="0.12">22</text>
<line x1="180.11" x2="180.11" y1="301.1" y2="303.5" stroke="#1a1a1a" stroke-width="0.8"/>
<text transform="translate(182.41 306.1) rotate(-90)" text-anchor="end" font-size="6.6" fill="#000" stroke="#000" stroke-width="0.12">23</text>
<line x1="186.54" x2="186.54" y1="301.1" y2="303.5" stroke="#1a1a1a" stroke-width="0.8"/>
<text transform="translate(188.84 306.1) rotate(-90)" text-anchor="end" font-size="6.6" fill="#000" stroke="#000" stroke-width="0.12">24</text>
<line x1="192.97" x2="192.97" y1="301.1" y2="303.5" stroke="#1a1a1a" stroke-width="0.8"/>
<text transform="translate(195.27 306.1) rotate(-90)" text-anchor="end" font-size="6.6" fill="#000" stroke="#000" stroke-width="0.12">25</text>
<line x1="199.40" x2="199.40" y1="301.1" y2="303.5" stroke="#1a1a1a" stroke-width="0.8"/>
<text transform="translate(201.70 306.1) rotate(-90)" text-anchor="end" font-size="6.6" fill="#000" stroke="#000" stroke-width="0.12">26</text>
<line x1="205.83" x2="205.83" y1="301.1" y2="303.5" stroke="#1a1a1a" stroke-width="0.8"/>
<text transform="translate(208.13 306.1) rotate(-90)" text-anchor="end" font-size="6.6" fill="#000" stroke="#000" stroke-width="0.12">27</text>
<line x1="212.26" x2="212.26" y1="301.1" y2="303.5" stroke="#1a1a1a" stroke-width="0.8"/>
<text transform="translate(214.56 306.1) rotate(-90)" text-anchor="end" font-size="6.6" fill="#000" stroke="#000" stroke-width="0.12">28</text>
<line x1="218.69" x2="218.69" y1="301.1" y2="303.5" stroke="#1a1a1a" stroke-width="0.8"/>
<text transform="translate(220.99 306.1) rotate(-90)" text-anchor="end" font-size="6.6" fill="#000" stroke="#000" stroke-width="0.12">29</text>
<line x1="225.12" x2="225.12" y1="301.1" y2="303.5" stroke="#1a1a1a" stroke-width="0.8"/>
<text transform="translate(227.42 306.1) rotate(-90)" text-anchor="end" font-size="6.6" fill="#000" stroke="#000" stroke-width="0.12">30</text>
<line x1="231.55" x2="231.55" y1="301.1" y2="303.5" stroke="#1a1a1a" stroke-width="0.8"/>
<text transform="translate(233.85 306.1) rotate(-90)" text-anchor="end" font-size="6.6" fill="#000" stroke="#000" stroke-width="0.12">31</text>
<line x1="237.98" x2="237.98" y1="301.1" y2="303.5" stroke="#1a1a1a" stroke-width="0.8"/>
<text transform="translate(240.28 306.1) rotate(-90)" text-anchor="end" font-size="6.6" fill="#000" stroke="#000" stroke-width="0.12">32</text>
<line x1="244.41" x2="244.41" y1="301.1" y2="303.5" stroke="#1a1a1a" stroke-width="0.8"/>
<text transform="translate(246.71 306.1) rotate(-90)" text-anchor="end" font-size="6.6" fill="#000" stroke="#000" stroke-width="0.12">33</text>
<line x1="250.84" x2="250.84" y1="301.1" y2="303.5" stroke="#1a1a1a" stroke-width="0.8"/>
<text transform="translate(253.14 306.1) rotate(-90)" text-anchor="end" font-size="6.6" fill="#000" stroke="#000" stroke-width="0.12">34</text>
<line x1="257.27" x2="257.27" y1="301.1" y2="303.5" stroke="#1a1a1a" stroke-width="0.8"/>
<text transform="translate(259.57 306.1) rotate(-90)" text-anchor="end" font-size="6.6" fill="#000" stroke="#000" stroke-width="0.12">35</text>
<line x1="263.70" x2="263.70" y1="301.1" y2="303.5" stroke="#1a1a1a" stroke-width="0.8"/>
<text transform="translate(266.00 306.1) rotate(-90)" text-anchor="end" font-size="6.6" fill="#000" stroke="#000" stroke-width="0.12">36</text>
<line x1="270.13" x2="270.13" y1="301.1" y2="303.5" stroke="#1a1a1a" stroke-width="0.8"/>
<text transform="translate(272.43 306.1) rotate(-90)" text-anchor="end" font-size="6.6" fill="#000" stroke="#000" stroke-width="0.12">37</text>
<line x1="276.56" x2="276.56" y1="301.1" y2="303.5" stroke="#1a1a1a" stroke-width="0.8"/>
<text transform="translate(278.86 306.1) rotate(-90)" text-anchor="end" font-size="6.6" fill="#000" stroke="#000" stroke-width="0.12">38</text>
<line x1="282.99" x2="282.99" y1="301.1" y2="303.5" stroke="#1a1a1a" stroke-width="0.8"/>
<text transform="translate(285.29 306.1) rotate(-90)" text-anchor="end" font-size="6.6" fill="#000" stroke="#000" stroke-width="0.12">39</text>
<line x1="289.42" x2="289.42" y1="301.1" y2="303.5" stroke="#1a1a1a" stroke-width="0.8"/>
<text transform="translate(291.72 306.1) rotate(-90)" text-anchor="end" font-size="6.6" fill="#000" stroke="#000" stroke-width="0.12">40</text>
<line x1="295.85" x2="295.85" y1="301.1" y2="303.5" stroke="#1a1a1a" stroke-width="0.8"/>
<text transform="translate(298.15 306.1) rotate(-90)" text-anchor="end" font-size="6.6" fill="#000" stroke="#000" stroke-width="0.12">41</text>
<line x1="302.28" x2="302.28" y1="301.1" y2="303.5" stroke="#1a1a1a" stroke-width="0.8"/>
<text transform="translate(304.58 306.1) rotate(-90)" text-anchor="end" font-size="6.6" fill="#000" stroke="#000" stroke-width="0.12">42</text>
<line x1="308.71" x2="308.71" y1="301.1" y2="303.5" stroke="#1a1a1a" stroke-width="0.8"/>
<text transform="translate(311.01 306.1) rotate(-90)" text-anchor="end" font-size="6.6" fill="#000" stroke="#000" stroke-width="0.12">43</text>
<line x1="315.14" x2="315.14" y1="301.1" y2="303.5" stroke="#1a1a1a" stroke-width="0.8"/>
<text transform="translate(317.44 306.1) rotate(-90)" text-anchor="end" font-size="6.6" fill="#000" stroke="#000" stroke-width="0.12">44</text>
<line x1="321.57" x2="321.57" y1="301.1" y2="303.5" stroke="#1a1a1a" stroke-width="0.8"/>
<text transform="translate(323.87 306.1) rotate(-90)" text-anchor="end" font-size="6.6" fill="#000" stroke="#000" stroke-width="0.12">45</text>
<line x1="328.00" x2="328.00" y1="301.1" y2="303.5" stroke="#1a1a1a" stroke-width="0.8"/>
<text transform="translate(330.30 306.1) rotate(-90)" text-anchor="end" font-size="6.6" fill="#000" stroke="#000" stroke-width="0.12">46</text>
<line x1="334.43" x2="334.43" y1="301.1" y2="303.5" stroke="#1a1a1a" stroke-width="0.8"/>
<text transform="translate(336.73 306.1) rotate(-90)" text-anchor="end" font-size="6.6" fill="#000" stroke="#000" stroke-width="0.12">47</text>
<line x1="340.86" x2="340.86" y1="301.1" y2="303.5" stroke="#1a1a1a" stroke-width="0.8"/>
<text transform="translate(343.16 306.1) rotate(-90)" text-anchor="end" font-size="6.6" fill="#000" stroke="#000" stroke-width="0.12">48</text>
<line x1="347.29" x2="347.29" y1="301.1" y2="303.5" stroke="#1a1a1a" stroke-width="0.8"/>
<text transform="translate(349.59 306.1) rotate(-90)" text-anchor="end" font-size="6.6" fill="#000" stroke="#000" stroke-width="0.12">49</text>
<line x1="353.72" x2="353.72" y1="301.1" y2="303.5" stroke="#1a1a1a" stroke-width="0.8"/>
<text transform="translate(356.02 306.1) rotate(-90)" text-anchor="end" font-size="6.6" fill="#000" stroke="#000" stroke-width="0.12">50</text>
<line x1="360.15" x2="360.15" y1="301.1" y2="303.5" stroke="#1a1a1a" stroke-width="0.8"/>
<text transform="translate(362.45 306.1) rotate(-90)" text-anchor="end" font-size="6.6" fill="#000" stroke="#000" stroke-width="0.12">51</text>
<line x1="366.58" x2="366.58" y1="301.1" y2="303.5" stroke="#1a1a1a" stroke-width="0.8"/>
<text transform="translate(368.88 306.1) rotate(-90)" text-anchor="end" font-size="6.6" fill="#000" stroke="#000" stroke-width="0.12">52</text>
<line x1="373.01" x2="373.01" y1="301.1" y2="303.5" stroke="#1a1a1a" stroke-width="0.8"/>
<text transform="translate(375.31 306.1) rotate(-90)" text-anchor="end" font-size="6.6" fill="#000" stroke="#000" stroke-width="0.12">53</text>
<line x1="379.44" x2="379.44" y1="301.1" y2="303.5" stroke="#1a1a1a" stroke-width="0.8"/>
<text transform="translate(381.74 306.1) rotate(-90)" text-anchor="end" font-size="6.6" fill="#000" stroke="#000" stroke-width="0.12">54</text>
<line x1="385.87" x2="385.87" y1="301.1" y2="303.5" stroke="#1a1a1a" stroke-width="0.8"/>
<text transform="translate(388.17 306.1) rotate(-90)" text-anchor="end" font-size="6.6" fill="#000" stroke="#000" stroke-width="0.12">55</text>
<line x1="392.30" x2="392.30" y1="301.1" y2="303.5" stroke="#1a1a1a" stroke-width="0.8"/>
<text transform="translate(394.60 306.1) rotate(-90)" text-anchor="end" font-size="6.6" fill="#000" stroke="#000" stroke-width="0.12">56</text>
<line x1="398.73" x2="398.73" y1="301.1" y2="303.5" stroke="#1a1a1a" stroke-width="0.8"/>
<text transform="translate(401.03 306.1) rotate(-90)" text-anchor="end" font-size="6.6" fill="#000" stroke="#000" stroke-width="0.12">57</text>
<line x1="405.16" x2="405.16" y1="301.1" y2="303.5" stroke="#1a1a1a" stroke-width="0.8"/>
<text transform="translate(407.46 306.1) rotate(-90)" text-anchor="end" font-size="6.6" fill="#000" stroke="#000" stroke-width="0.12">58</text>
<line x1="411.59" x2="411.59" y1="301.1" y2="303.5" stroke="#1a1a1a" stroke-width="0.8"/>
<text transform="translate(413.89 306.1) rotate(-90)" text-anchor="end" font-size="6.6" fill="#000" stroke="#000" stroke-width="0.12">59</text>
<line x1="418.02" x2="418.02" y1="301.1" y2="303.5" stroke="#1a1a1a" stroke-width="0.8"/>
<text transform="translate(420.32 306.1) rotate(-90)" text-anchor="end" font-size="6.6" fill="#000" stroke="#000" stroke-width="0.12">60</text>
<line x1="424.45" x2="424.45" y1="301.1" y2="303.5" stroke="#1a1a1a" stroke-width="0.8"/>
<text transform="translate(426.75 306.1) rotate(-90)" text-anchor="end" font-size="6.6" fill="#000" stroke="#000" stroke-width="0.12">61</text>
<line x1="430.88" x2="430.88" y1="301.1" y2="303.5" stroke="#1a1a1a" stroke-width="0.8"/>
<text transform="translate(433.18 306.1) rotate(-90)" text-anchor="end" font-size="6.6" fill="#000" stroke="#000" stroke-width="0.12">62</text>
<line x1="437.31" x2="437.31" y1="301.1" y2="303.5" stroke="#1a1a1a" stroke-width="0.8"/>
<text transform="translate(439.61 306.1) rotate(-90)" text-anchor="end" font-size="6.6" fill="#000" stroke="#000" stroke-width="0.12">63</text>
<line x1="443.74" x2="443.74" y1="301.1" y2="303.5" stroke="#1a1a1a" stroke-width="0.8"/>
<text transform="translate(446.04 306.1) rotate(-90)" text-anchor="end" font-size="6.6" fill="#000" stroke="#000" stroke-width="0.12">64</text>
<line x1="450.17" x2="450.17" y1="301.1" y2="303.5" stroke="#1a1a1a" stroke-width="0.8"/>
<text transform="translate(452.47 306.1) rotate(-90)" text-anchor="end" font-size="6.6" fill="#000" stroke="#000" stroke-width="0.12">65</text>
<line x1="456.60" x2="456.60" y1="301.1" y2="303.5" stroke="#1a1a1a" stroke-width="0.8"/>
<text transform="translate(458.90 306.1) rotate(-90)" text-anchor="end" font-size="6.6" fill="#000" stroke="#000" stroke-width="0.12">66</text>
<line x1="463.03" x2="463.03" y1="301.1" y2="303.5" stroke="#1a1a1a" stroke-width="0.8"/>
<text transform="translate(465.33 306.1) rotate(-90)" text-anchor="end" font-size="6.6" fill="#000" stroke="#000" stroke-width="0.12">67</text>
<line x1="469.46" x2="469.46" y1="301.1" y2="303.5" stroke="#1a1a1a" stroke-width="0.8"/>
<text transform="translate(471.76 306.1) rotate(-90)" text-anchor="end" font-size="6.6" fill="#000" stroke="#000" stroke-width="0.12">68</text>
<line x1="475.89" x2="475.89" y1="301.1" y2="303.5" stroke="#1a1a1a" stroke-width="0.8"/>
<text transform="translate(478.19 306.1) rotate(-90)" text-anchor="end" font-size="6.6" fill="#000" stroke="#000" stroke-width="0.12">69</text>
<line x1="482.32" x2="482.32" y1="301.1" y2="303.5" stroke="#1a1a1a" stroke-width="0.8"/>
<text transform="translate(484.62 306.1) rotate(-90)" text-anchor="end" font-size="6.6" fill="#000" stroke="#000" stroke-width="0.12">70</text>
<line x1="488.75" x2="488.75" y1="301.1" y2="303.5" stroke="#1a1a1a" stroke-width="0.8"/>
<text transform="translate(491.05 306.1) rotate(-90)" text-anchor="end" font-size="6.6" fill="#000" stroke="#000" stroke-width="0.12">71</text>
<line x1="495.18" x2="495.18" y1="301.1" y2="303.5" stroke="#1a1a1a" stroke-width="0.8"/>
<text transform="translate(497.48 306.1) rotate(-90)" text-anchor="end" font-size="6.6" fill="#000" stroke="#000" stroke-width="0.12">72</text>
<line x1="501.61" x2="501.61" y1="301.1" y2="303.5" stroke="#1a1a1a" stroke-width="0.8"/>
<text transform="translate(503.91 306.1) rotate(-90)" text-anchor="end" font-size="6.6" fill="#000" stroke="#000" stroke-width="0.12">73</text>
<text x="102.95" y="320.4" text-anchor="middle" font-size="8" fill="#f0a0e6">*</text>
<text x="109.38" y="320.4" text-anchor="middle" font-size="8" fill="#f0a0e6">*</text>
<text x="141.53" y="320.4" text-anchor="middle" font-size="8" fill="#8ce68c">*</text>
<text x="147.96" y="320.4" text-anchor="middle" font-size="8" fill="#8ce68c">*</text>
<text x="321.57" y="318.3" text-anchor="middle" font-size="6.5" fill="#bca6ea">+</text>
<text x="334.43" y="320.4" text-anchor="middle" font-size="8" fill="#6478dc">*</text>
<text x="340.86" y="318.3" text-anchor="middle" font-size="6.5" fill="#bca6ea">+</text>
<text x="347.29" y="318.3" text-anchor="middle" font-size="6.5" fill="#bca6ea">+</text>
<text x="353.72" y="320.4" text-anchor="middle" font-size="8" fill="#6478dc">*</text>
<text x="360.15" y="320.4" text-anchor="middle" font-size="8" fill="#6478dc">*</text>
<text x="392.30" y="318.3" text-anchor="middle" font-size="6.5" fill="#f59ac6">+</text>
<text x="405.16" y="318.3" text-anchor="middle" font-size="6.5" fill="#f59ac6">+</text>
<text x="411.59" y="318.3" text-anchor="middle" font-size="6.5" fill="#f59ac6">+</text>
<text x="418.02" y="318.3" text-anchor="middle" font-size="6.5" fill="#ccb078">+</text>
<text x="430.88" y="318.3" text-anchor="middle" font-size="6.5" fill="#ccb078">+</text>
<text x="437.31" y="320.4" text-anchor="middle" font-size="8" fill="#3aa068">*</text>
<text x="443.74" y="318.3" text-anchor="middle" font-size="6.5" fill="#a8e0f0">+</text>
<text x="450.17" y="320.4" text-anchor="middle" font-size="8" fill="#3aa068">*</text>
<text x="482.32" y="318.3" text-anchor="middle" font-size="6.5" fill="#a8e0f0">+</text>
<text x="488.75" y="318.3" text-anchor="middle" font-size="6.5" fill="#a8e0f0">+</text>
<text x="41.2" y="18.6" font-size="16.8" font-weight="bold" fill="#111">a</text>
<text x="250.8" y="293.8" font-size="10.95" fill="#0a0a0a">Samples</text>
<text transform="translate(7.7 151.7) rotate(-90)" text-anchor="middle" font-size="10.7" fill="#0a0a0a">cells per ml</text>
<rect x="390.6" y="199.2" width="93.5" height="83.6" fill="#fff" stroke="#222" stroke-width="1"/>
<circle cx="403.8" cy="213.7" r="6.5" fill="#FFC800"/>
<text x="417.5" y="217.8" font-size="10.85" fill="#0a0a0a">Younger</text>
<circle cx="403.8" cy="231.4" r="6.5" fill="#FF0000"/>
<text x="417.5" y="235.5" font-size="10.85" fill="#0a0a0a">Intermediate</text>
<circle cx="403.8" cy="250" r="6.5" fill="#00C8FF"/>
<text x="417.5" y="254.1" font-size="10.85" fill="#0a0a0a">Older,SO</text>
<circle cx="403.8" cy="268.7" r="6.5" fill="#9400D3"/>
<text x="417.5" y="272.8" font-size="10.85" fill="#0a0a0a">Older</text>
<line x1="531.0" x2="684.4" y1="37.3" y2="37.3" stroke="#b8b8b8" stroke-width="0.8"/>
<line x1="531.0" x2="684.4" y1="112.1" y2="112.1" stroke="#b8b8b8" stroke-width="0.8"/>
<line x1="531.0" x2="684.4" y1="186.5" y2="186.5" stroke="#b8b8b8" stroke-width="0.8"/>
<line x1="531.0" x2="684.4" y1="261.3" y2="261.3" stroke="#b8b8b8" stroke-width="0.8"/>
<g stroke="#1e1e22" stroke-width="0.9">
<line x1="552.5" x2="552.5" y1="152.2" y2="229.9"/>
<line x1="550.4" x2="554.6" y1="152.2" y2="152.2"/>
<line x1="550.4" x2="554.6" y1="229.9" y2="229.9"/>
<rect x="539.20" y="167.7" width="27.6" height="32.00" fill="#FAC800" stroke="#3a3a40" stroke-width="0.9"/>
<line x1="539.20" x2="566.80" y1="177.6" y2="177.6" stroke="#33333a" stroke-width="1.5"/>
</g>
<path d="M550.60 187.30L555.40 187.30L553.00 183.10Z" fill="#000"/>
<g stroke="#1e1e22" stroke-width="0.9">
<line x1="589.5" x2="589.5" y1="163.0" y2="229.9"/>
<line x1="587.4" x2="591.6" y1="163.0" y2="163.0"/>
<line x1="587.4" x2="591.6" y1="229.9" y2="229.9"/>
<rect x="575.70" y="164.2" width="27.6" height="27.00" fill="#F70000" stroke="#3a3a40" stroke-width="0.9"/>
<line x1="575.70" x2="603.30" y1="179.9" y2="179.9" stroke="#33333a" stroke-width="1.5"/>
</g>
<path d="M587.10 174.20L591.90 174.20L589.50 170.00Z" fill="#000"/>
<circle cx="589.50" cy="109.3" r="1.5" fill="#000"/>
<circle cx="589.50" cy="117.8" r="1.5" fill="#000"/>
<g stroke="#1e1e22" stroke-width="0.9">
<line x1="625.5" x2="625.5" y1="156.2" y2="182.3"/>
<line x1="623.4" x2="627.6" y1="182.3" y2="182.3"/>
<rect x="612.20" y="156.2" width="27.6" height="22.10" fill="#00C8FF" stroke="#3a3a40" stroke-width="0.9"/>
<line x1="612.20" x2="639.80" y1="175.9" y2="175.9" stroke="#33333a" stroke-width="1.5"/>
</g>
<path d="M623.60 167.80L628.40 167.80L626.00 163.60Z" fill="#000"/>
<circle cx="626.00" cy="105.1" r="1.5" fill="#000"/>
<circle cx="626.00" cy="119.9" r="1.5" fill="#000"/>
<circle cx="626.00" cy="227.3" r="1.5" fill="#000"/>
<g stroke="#1e1e22" stroke-width="0.9">
<line x1="662.5" x2="662.5" y1="26.3" y2="206.3"/>
<line x1="660.4" x2="664.6" y1="26.3" y2="26.3"/>
<line x1="660.4" x2="664.6" y1="206.3" y2="206.3"/>
<rect x="648.80" y="84.4" width="27.6" height="71.60" fill="#9600C8" stroke="#3a3a40" stroke-width="0.9"/>
<line x1="648.80" x2="676.40" y1="130.9" y2="130.9" stroke="#33333a" stroke-width="1.5"/>
</g>
<path d="M660.20 125.60L665.00 125.60L662.60 121.40Z" fill="#000"/>
<path d="M531.0 301.4V0.3H684.4V301.4Z" fill="none" stroke="#181818" stroke-width="1.25"/>
<line x1="529.0" x2="531.0" y1="37.3" y2="37.3" stroke="#1a1a1a" stroke-width="0.9"/>
<text x="509.2" y="41.9" font-size="10.8" fill="#000">10</text>
<text x="522.0" y="37.5" font-size="10.8" fill="#000">7</text>
<line x1="529.0" x2="531.0" y1="112.1" y2="112.1" stroke="#1a1a1a" stroke-width="0.9"/>
<text x="509.2" y="116.7" font-size="10.8" fill="#000">10</text>
<text x="522.0" y="112.3" font-size="10.8" fill="#000">6</text>
<line x1="529.0" x2="531.0" y1="186.5" y2="186.5" stroke="#1a1a1a" stroke-width="0.9"/>
<text x="509.2" y="191.1" font-size="10.8" fill="#000">10</text>
<text x="522.0" y="186.7" font-size="10.8" fill="#000">5</text>
<line x1="529.0" x2="531.0" y1="261.3" y2="261.3" stroke="#1a1a1a" stroke-width="0.9"/>
<text x="509.2" y="265.9" font-size="10.8" fill="#000">10</text>
<text x="522.0" y="261.5" font-size="10.8" fill="#000">4</text>
<text x="538.8" y="18.8" font-size="16.8" font-weight="bold" fill="#111">b</text>
<path d="M618.4 46.2V44.2H654.7V46.2" fill="none" stroke="#444" stroke-width="0.7"/>
<text x="637.1" y="44.1" text-anchor="middle" font-size="10" font-weight="bold" fill="#222">*</text>
<path d="M581.5 58.3V56.3H654.7V58.3" fill="none" stroke="#444" stroke-width="0.7"/>
<text x="619.6" y="56.2" text-anchor="middle" font-size="10" font-weight="bold" fill="#222">**</text>
<path d="M545.0 70.6V68.6H654.7V70.6" fill="none" stroke="#444" stroke-width="0.7"/>
<text x="601.8" y="68.5" text-anchor="middle" font-size="10" font-weight="bold" fill="#222">***</text>
<text x="554.2" y="291" text-anchor="middle" font-size="11.1" fill="#111">n=13</text>
<text x="590.7" y="291" text-anchor="middle" font-size="11.1" fill="#111">n=10</text>
<text x="627.0" y="291" text-anchor="middle" font-size="11.1" fill="#111">n=9</text>
<text x="664.0" y="291" text-anchor="middle" font-size="11.1" fill="#111">n=32</text>
</svg>
</body></html>
